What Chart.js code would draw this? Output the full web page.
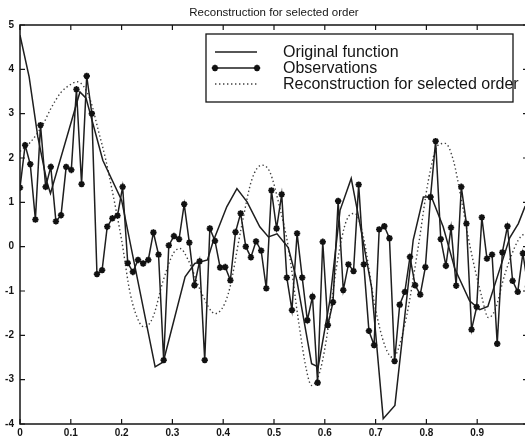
<!DOCTYPE html>
<html><head><meta charset="utf-8">
<script src="https://cdn.jsdelivr.net/npm/chart.js@4/dist/chart.umd.min.js"></script>
<style>
html,body{margin:0;padding:0;background:#fff;overflow:hidden;width:525px;height:438px}
#wrap{position:absolute;left:0;top:0;width:545px;height:438px}
canvas{display:block}
</style></head><body>
<div id="wrap"><canvas id="c" width="545" height="438"></canvas></div>
<script>
const titleText = 'Reconstruction for selected order';
const seriesNames = ['Original function', 'Observations', 'Reconstruction for selected order'];
const xTicks = [0, 0.1, 0.2, 0.3, 0.4, 0.5, 0.6, 0.7, 0.8, 0.9, 1];
const xTickLabels = ['0', '0.1', '0.2', '0.3', '0.4', '0.5', '0.6', '0.7', '0.8', '0.9', '1'];
const yTicks = [-4, -3, -2, -1, 0, 1, 2, 3, 4, 5];

// Observations (100 samples on [0,1])
const obsValues = [
  1.33, 2.29, 1.86, 0.61, 2.74, 1.35, 1.80, 0.57, 0.71, 1.80,
  1.73, 3.55, 1.41, 3.85, 3.00, -0.62, -0.53, 0.45, 0.64, 0.70,
  1.35, -0.37, -0.57, -0.30, -0.38, -0.30, 0.32, -0.18, -2.56, 0.03,
  0.24, 0.17, 0.96, 0.09, -0.87, -0.33, -2.56, 0.41, 0.13, -0.47,
  -0.46, -0.76, 0.33, 0.75, 0.00, -0.24, 0.12, -0.09, -0.94, 1.27,
  0.41, 1.18, -0.70, -1.43, 0.30, -0.70, -1.66, -1.13, -3.07, 0.11,
  -1.77, -1.25, 1.03, -0.98, -0.40, -0.55, 1.40, -0.40, -1.90, -2.22,
  0.39, 0.46, 0.19, -2.58, -1.31, -1.02, -0.23, -0.87, -1.08, -0.46,
  1.12, 2.38, 0.17, -0.43, 0.43, -0.88, 1.35, 0.52, -1.87, -1.36,
  0.66, -0.27, -0.18, -2.19, -0.13, 0.46, -0.77, -1.02, -0.15, -0.90
];

// Original function (piecewise linear)
const origX = [0, 0.018, 0.035, 0.053, 0.060, 0.118, 0.130, 0.163, 0.200, 0.266,
  0.282, 0.325, 0.344, 0.369, 0.380, 0.407, 0.427, 0.447, 0.472, 0.489,
  0.506, 0.528, 0.545, 0.574, 0.587, 0.610, 0.630, 0.652, 0.669, 0.692,
  0.715, 0.738, 0.774, 0.794, 0.810, 0.833, 0.856, 0.885, 0.905, 0.921,
  0.946, 0.964, 0.981, 0.994, 1.0];
const origY = [4.77, 3.83, 2.48, 1.46, 1.20, 3.49, 3.35, 1.95, 1.05, -2.71,
  -2.60, -0.68, -0.38, -0.30, 0.11, 0.90, 1.31, 1.01, 0.45, 0.22,
  0.29, -0.02, -0.76, -2.64, -2.71, -1.21, 0.82, 1.54, 0.52, -0.91,
  -3.88, -3.58, 0.15, 1.12, 1.12, 0.45, -0.50, -1.22, -1.42, -1.35,
  -0.45, 0.20, 0.52, 0.90, 0.97];

// Reconstruction for selected order (smooth)
const reconX = [0, 0.02, 0.045, 0.06, 0.08, 0.10, 0.112, 0.125, 0.14, 0.154,
  0.168, 0.180, 0.200, 0.217, 0.236, 0.246, 0.262, 0.282, 0.302, 0.315,
  0.331, 0.358, 0.384, 0.410, 0.436, 0.456, 0.476, 0.492, 0.512, 0.528,
  0.548, 0.564, 0.574, 0.591, 0.607, 0.623, 0.643, 0.659, 0.676, 0.699,
  0.719, 0.734, 0.758, 0.784, 0.804, 0.823, 0.837, 0.853, 0.869, 0.886,
  0.909, 0.922, 0.935, 0.955, 0.981, 1.0];
const reconY = [2.15, 2.35, 2.75, 3.10, 3.47, 3.66, 3.72, 3.62, 3.25, 2.63,
  2.00, 1.35, 0.15, -1.06, -1.73, -1.81, -1.58, -0.76, -0.15, -0.04,
  -0.30, -1.06, -1.51, -1.06, 0.45, 1.50, 1.84, 1.68, 0.85, 0.00,
  -1.66, -2.79, -3.13, -2.79, -1.81, -0.46, 0.60, 0.75, 0.22, -1.36,
  -2.26, -2.50, -1.73, 0.00, 1.50, 2.29, 2.33, 1.95, 1.05, 0.00,
  -1.13, -1.60, -1.43, -0.60, 0.15, 0.35];

const obsX = obsValues.map((_, i) => i / 99);
const toPts = (xs, ys) => xs.map((x, i) => ({ x: x, y: ys[i] }));

const INK = '#151515';
const FONT = '"Liberation Sans", Arial, Helvetica, sans-serif';

const framePlugin = {
  id: 'frame',
  afterDraw(chart) {
    const { ctx, chartArea: a, scales } = chart;
    const xs = scales.x, ys = scales.y;
    ctx.save();
    // title
    ctx.fillStyle = INK;
    ctx.font = '11.5px ' + FONT;
    ctx.textAlign = 'center';
    ctx.textBaseline = 'middle';
    ctx.fillText(titleText, (a.left + a.right) / 2, 13);
    // axes box
    ctx.strokeStyle = INK;
    ctx.lineWidth = 1.5;
    ctx.strokeRect(a.left, a.top, a.right - a.left, a.bottom - a.top);
    // inward ticks
    ctx.lineWidth = 1.2;
    ctx.beginPath();
    xTicks.forEach(v => {
      const p = xs.getPixelForValue(v);
      ctx.moveTo(p, a.bottom); ctx.lineTo(p, a.bottom - 5);
      ctx.moveTo(p, a.top); ctx.lineTo(p, a.top + 5);
    });
    yTicks.forEach(v => {
      const p = ys.getPixelForValue(v);
      ctx.moveTo(a.left, p); ctx.lineTo(a.left + 5, p);
      ctx.moveTo(a.right, p); ctx.lineTo(a.right - 5, p);
    });
    ctx.stroke();

    // legend box
    const bw = 307, bh = 68;
    const bx = a.right - 15 - bw, by = a.top + 9;
    ctx.fillStyle = '#fff';
    ctx.fillRect(bx, by, bw, bh);
    ctx.lineWidth = 1.3;
    ctx.strokeRect(bx, by, bw, bh);
    const ds = chart.data.datasets;
    const rows = [by + 18, by + 34, by + 50];
    const lx0 = bx + 9, lx1 = bx + 51, tx = bx + 77;
    ds.forEach((d, i) => {
      const y = rows[i];
      ctx.save();
      ctx.strokeStyle = d.borderColor;
      ctx.lineWidth = d.borderWidth;
      ctx.setLineDash(d.borderDash || []);
      ctx.beginPath(); ctx.moveTo(lx0, y); ctx.lineTo(lx1, y); ctx.stroke();
      ctx.restore();
      if (d.pointRadius > 0) {
        ctx.save();
        ctx.strokeStyle = d.pointBorderColor; ctx.fillStyle = d.pointBackgroundColor;
        ctx.lineWidth = d.pointBorderWidth;
        Chart.helpers.drawPoint(ctx, { pointStyle: d.pointStyle, radius: d.pointRadius, borderWidth: d.pointBorderWidth, rotation: 0 }, lx0, y);
        Chart.helpers.drawPoint(ctx, { pointStyle: d.pointStyle, radius: d.pointRadius, borderWidth: d.pointBorderWidth, rotation: 0 }, lx1, y);
        ctx.restore();
      }
      ctx.fillStyle = INK;
      ctx.font = '16px ' + FONT;
      ctx.textAlign = 'left';
      ctx.textBaseline = 'middle';
      ctx.fillText(seriesNames[i], tx, y + 1);
    });
    ctx.restore();
  }
};

new Chart(document.getElementById('c'), {
  type: 'line',
  data: {
    datasets: [
      {
        label: seriesNames[0], data: toPts(origX, origY),
        borderColor: '#1e1e1e', borderWidth: 1.5, pointRadius: 0, tension: 0, order: 2
      },
      {
        label: seriesNames[1], data: toPts(obsX, obsValues),
        borderColor: '#1e1e1e', borderWidth: 1.5,
        pointStyle: 'star', pointRadius: 3.2, pointBorderWidth: 1.8,
        pointBorderColor: '#111', pointBackgroundColor: '#111', tension: 0, order: 1
      },
      {
        label: seriesNames[2], data: toPts(reconX, reconY),
        borderColor: '#404040', borderWidth: 1.4, borderDash: [1.4, 2.6],
        pointRadius: 0, cubicInterpolationMode: 'monotone', order: 3
      }
    ]
  },
  options: {
    responsive: false,
    animation: false,
    devicePixelRatio: 1,
    layout: { padding: { left: 0, right: 17, top: 25, bottom: 0 } },
    plugins: { legend: { display: false }, title: { display: false }, tooltip: { enabled: false } },
    scales: {
      x: {
        type: 'linear', min: 0, max: 1,
        afterBuildTicks: s => { s.ticks = xTicks.map(v => ({ value: v })); },
        afterFit: s => { s.height = 14; },
        grid: { display: false, drawTicks: false },
        border: { display: false },
        ticks: {
          padding: 3, color: INK, maxRotation: 0, autoSkip: false,
          font: { family: FONT, size: 10, weight: 'bold' },
          callback: (v) => { const i = xTicks.findIndex(t => Math.abs(t - v) < 1e-9); return i >= 0 ? xTickLabels[i] : ''; }
        }
      },
      y: {
        min: -4, max: 5,
        afterBuildTicks: s => { s.ticks = yTicks.map(v => ({ value: v })); },
        afterFit: s => { s.width = 20; },
        grid: { display: false, drawTicks: false },
        border: { display: false },
        ticks: {
          padding: 6, color: INK,
          font: { family: FONT, size: 10, weight: 'bold' },
          callback: v => String(v)
        }
      }
    }
  },
  plugins: [framePlugin]
});
</script>
</body></html>
